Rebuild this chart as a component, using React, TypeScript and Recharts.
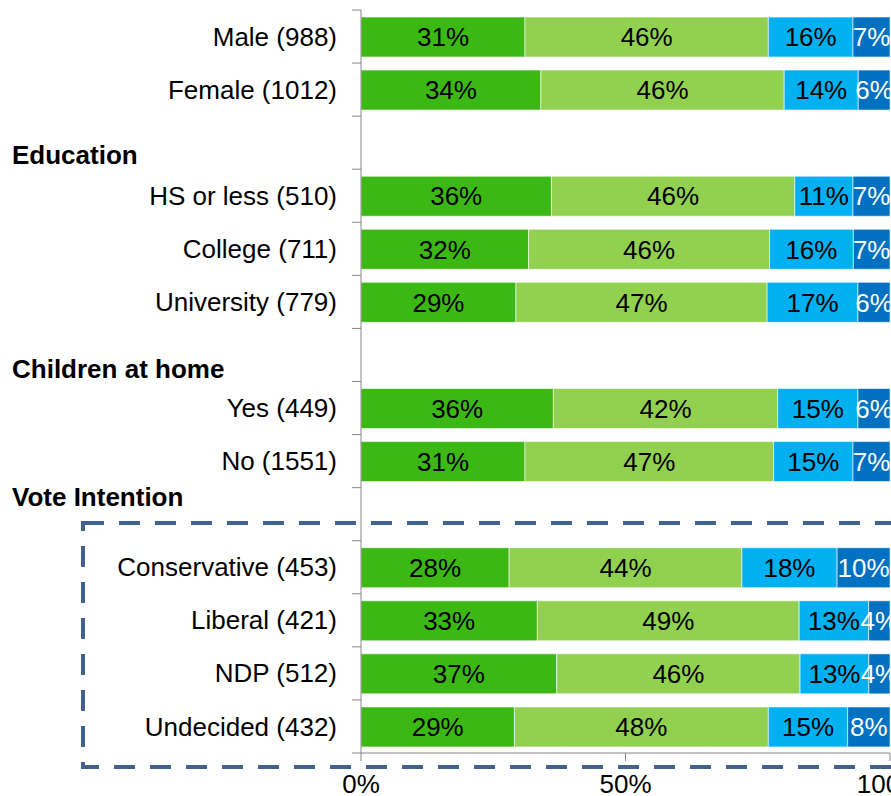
import React from "react"
import { BarChart, Bar, XAxis, YAxis, LabelList } from "recharts"

// rows of the chart, headers are the blank rows with a bold title
const categories = [
  "Male (988)",
  "Female (1012)",
  "Education",
  "HS or less (510)",
  "College (711)",
  "University (779)",
  "Children at home",
  "Yes (449)",
  "No (1551)",
  "Vote Intention",
  "Conservative (453)",
  "Liberal (421)",
  "NDP (512)",
  "Undecided (432)",
]

const headers = ["Education", "Children at home", "Vote Intention"]

const series1 = [31, 34, 0, 36, 32, 29, 0, 36, 31, 0, 28, 33, 37, 29]
const series2 = [46, 46, 0, 46, 46, 47, 0, 42, 47, 0, 44, 49, 46, 48]
const series3 = [16, 14, 0, 11, 16, 17, 0, 15, 15, 0, 18, 13, 13, 15]
const series4 = [7, 6, 0, 7, 7, 6, 0, 6, 7, 0, 10, 4, 4, 8]

const xTicks = [0, 0.5, 1]

const COLORS = ["#3cb815", "#92d050", "#00b0f0", "#0070c0"]
const LABEL_COLORS = ["#000", "#000", "#000", "#fff"]

// vertical nudge of the header titles relative to their row
const HEADER_DY: Record<string, number> = {
  Education: 12,
  "Children at home": 13.5,
  "Vote Intention": -17,
}

const data = categories.map((name, i) => ({
  name,
  v1: series1[i],
  v2: series2[i],
  v3: series3[i],
  v4: series4[i],
}))

const CHART_H = 796
const MARGIN_TOP = 10
const X_AXIS_H = 43
const HALF_BAND = (CHART_H - MARGIN_TOP - X_AXIS_H) / categories.length / 2

const FONT = 26

function YTick(props: any) {
  const { x, y, payload, index } = props
  const name = payload.value
  const isHeader = headers.includes(name)
  const axisX = x + 24
  return (
    <g>
      <line x1={axisX - 9} x2={axisX} y1={y - HALF_BAND} y2={y - HALF_BAND} stroke="#868686" />
      {index === categories.length - 1 && (
        <line x1={axisX - 9} x2={axisX} y1={y + HALF_BAND} y2={y + HALF_BAND} stroke="#868686" />
      )}
      {isHeader ? (
        <text x={12} y={y + HEADER_DY[name]} dy="0.35em" textAnchor="start" fontSize={FONT} fontWeight="bold" fill="#000">
          {name}
        </text>
      ) : (
        <text x={x} y={y} dy="0.35em" textAnchor="end" fontSize={FONT} fill="#000">
          {name}
        </text>
      )}
    </g>
  )
}

const fmt = (v: any) => (v ? `${v}%` : "")

export default function App() {
  const keys = ["v1", "v2", "v3", "v4"]
  return (
    <div
      style={{
        position: "fixed",
        left: 0,
        top: 0,
        width: 891,
        height: 796,
        overflow: "hidden",
        background: "#fff",
        fontFamily: "'Liberation Sans', Arial, sans-serif",
      }}
    >
      <BarChart
        width={930}
        height={CHART_H}
        data={data}
        layout="vertical"
        stackOffset="expand"
        margin={{ top: MARGIN_TOP, right: 40, bottom: 0, left: 0 }}
      >
        <XAxis
          type="number"
          domain={[0, 1]}
          ticks={xTicks}
          tickFormatter={(v) => `${Math.round(v * 100)}%`}
          height={X_AXIS_H}
          tickSize={8}
          tickMargin={14}
          stroke="#868686"
          tick={{ fill: "#000", fontSize: FONT }}
        />
        <YAxis
          type="category"
          dataKey="name"
          width={361}
          tickLine={false}
          tickSize={9}
          tickMargin={15}
          stroke="#868686"
          interval={0}
          tick={<YTick />}
        />
        {keys.map((k, i) => (
          <Bar
            key={k}
            dataKey={k}
            stackId="a"
            fill={COLORS[i]}
            stroke="#ffffff"
            strokeOpacity={0.6}
            barSize={40}
            isAnimationActive={false}
          >
            <LabelList dataKey={k} position="center" formatter={fmt} fill={LABEL_COLORS[i]} fontSize={FONT} />
          </Bar>
        ))}
      </BarChart>
      <svg
        width={891}
        height={796}
        style={{ position: "absolute", left: 0, top: 0, pointerEvents: "none" }}
      >
        <rect x={83} y={523} width={840} height={244} fill="none" stroke="#41618f" strokeWidth={4} strokeDasharray="21 15" />
      </svg>
    </div>
  )
}
